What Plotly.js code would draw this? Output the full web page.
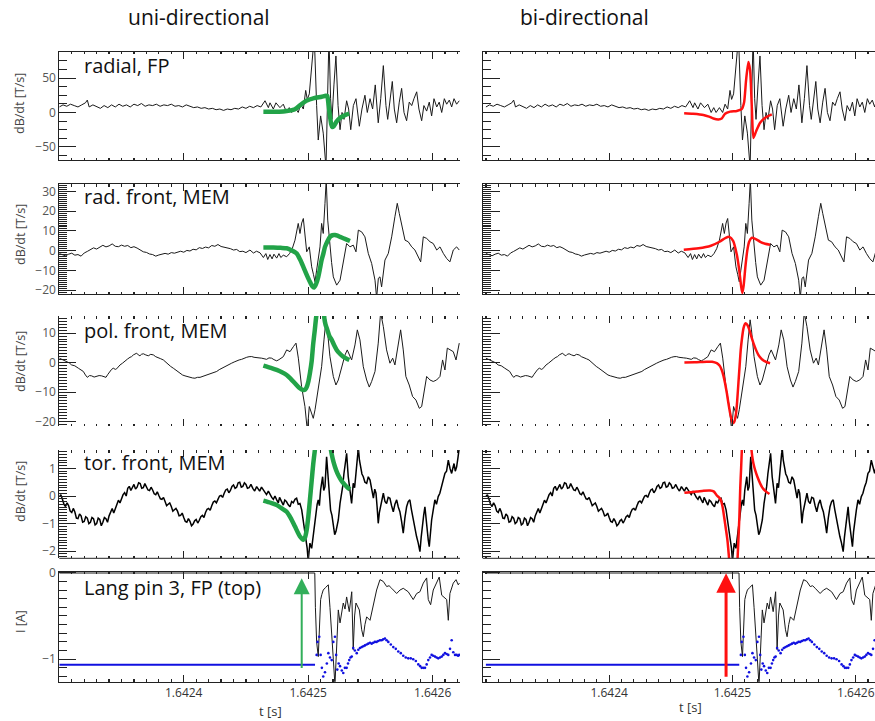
<!DOCTYPE html>
<html><head><meta charset="utf-8">
<script src="https://cdn.plot.ly/plotly-3.0.1.min.js"></script>
<style>html,body{margin:0;padding:0;background:#fff;overflow:hidden}#chart{width:875px;height:721px}</style>
</head><body><div id="chart"></div>
<script>
// time origin (s); all point times below are offsets in microseconds from T0
const T0 = 1.6423;
const US = 1e-6;
const xTickVals = [1.6424, 1.6425, 1.6426];
const xTickText = ['1.6424', '1.6425', '1.6426'];

const colTitles = ['uni-directional', 'bi-directional'];
const panelLabels = ['radial, FP', 'rad. front, MEM', 'pol. front, MEM', 'tor. front, MEM', 'Lang pin 3, FP (top)'];
const yTitles = ['dB/dt [T/s]', 'dB/dt [T/s]', 'dB/dt [T/s]', 'dB/dt [T/s]', 'I [A]'];
const xTitle = 't [s]';

// ---- measured signals [t (us), value] ----
const radialFP = [[0,8],[3,11],[6,9],[9,12],[12,10],[15,8],[18,11],[21,14],[22.5,18],[24,8],[27,11],[30,9],[33,6],[36,10],[39,7],[42,11],[45,8],[48,12],[51,9],[54,11],[57,8],[60,12],[63,10],[66,13],[69,9],[72,11],[75,10],[78,12],[81,9],[84,11],[87,10],[90,12],[93,9],[96,10],[99,8],[102,11],[105,9],[108,7],[111,8],[114,6],[117,7],[120,5],[123,6],[126,4],[129,5],[132,3],[135,5],[138,4],[141,6],[144,5],[147,8],[150,6],[153,9],[156,7],[159,10],[162,8],
[165.3,17],[168,7],[169.3,14],[172,5],[174.1,14],[177.3,7],[180,12],[182.7,0],[184.8,7],[186.7,0],[189.4,7],[192,0],[194,12],[196.1,5],[198,32],[199.3,19],[200.9,27],[203,60],[204.9,110],[206.8,10],[208.1,-40],[210,-5],[212.1,-30],[214.3,-80],[215.7,20],[216.7,110],[218,20],[219.1,-10],[220.7,40],[222.3,82],[224,10],[225.6,-25],[227.2,0],[228.8,-10],[230.9,17],[232.5,5],[234.2,-25],[236.3,10],[238.4,20],[241.1,-20],[243.2,5],[245.6,25],[247.5,0],[249.7,20],[251.8,5],[253.9,40],[256.3,-15],[258.3,20],[260.4,68],[262.5,10],[263.9,-10],[265.7,20],[267.6,45],[269.2,5],[271.1,-15],[273.2,15],[275.1,35],[277,0],[279.1,-12],[281.2,15],[283.2,10],[285,20],[287.2,30],[289,5],[291.2,-12],[293,10],[295.2,2],[297.3,15],[299.2,-5],[301.1,20],[303.3,8],[305.3,15],[307.3,0],[309.4,20],[311.3,12],[313.4,18],[315.3,8],[317.2,20],[319.3,12],[321.4,17]];

const radFront = [[0,-1.5],[2.5,-2.2],[5,-2.6],[7.5,-1.8],[10,-1.3],[12.5,-2.3],[15,-2.0],[17.5,-2.8],[20,-1.2],[22.5,-0.4],[25,0.3],[27.5,1.4],[30,0.8],[32.5,1.8],[35,2.7],[37.5,1.9],[40,2.4],[42.5,3.4],[45,2.2],[47.5,2.0],[50,2.8],[52.5,2.2],[55,2.6],[57.5,1.5],[60,2.0],[62.5,1.3],[65,0.4],[67.5,-0.6],[70,-0.9],[72.5,-1.7],[75,-2.0],[77.5,-2.8],[80,-2.2],[82.5,-1.9],[85,-1.4],[87.5,-1.8],[90,-1.0],[92.5,-1.3],[95,-0.6],[97.5,-0.3],[100,-0.8],[102.5,0.1],[105,-0.2],[107.5,0.7],[110,0.4],[112.5,1.5],[115,1.1],[117.5,1.8],[120,1.4],[122.5,2.6],[125,2.2],[127.5,3.1],[130,2.1],[132.5,1.8],[135,1.2],[137.5,1.0],[140,0.3],[142.5,0.6],[145,-0.5],[147.5,-0.3],[150,-1.0],
[153.2,0.3],[156,-1.2],[158.5,-0.3],[161.3,-1.1],[164,-3.5],[166,-1.5],[167.5,-4.5],[169.3,-2.0],[171,-4.2],[172.5,-1.8],[174.7,-3.8],[176.5,-1.5],[178,-3.5],[180,-2.3],[182.7,-3.1],[185,-1.5],[187.2,1.0],[189.4,5.3],[192,13.8],[193.4,8.7],[194.8,14],[196.1,16.3],[197.4,7],[198.8,-0.6],[200.9,1.9],[202.8,-8.2],[204.2,-12],[205.5,-15.8],[206.8,-9.9],[208.2,-4],[209.5,1.9],[210.8,13.8],[212.1,8.7],[213.5,24],[214.5,36],[215.7,15.5],[217.5,1.9],[218.8,-6],[220.2,-13.3],[222.9,-17.5],[225.6,-15],[228.2,-4.8],[230.9,3.6],[233.6,1.9],[236.2,2.8],[238.4,-0.6],[240.3,10.4],[243,9.5],[245.6,7],[248.3,-1.4],[251,-6.5],[253.7,-15],[255,-24],[256.4,-14],[257.7,-13.3],[259,-18.4],[261.7,-4.8],[264.4,-1.4],[267.1,7],[269.7,17.2],[271.6,24],[273.2,18.9],[275.1,13.8],[277.8,5.3],[280.4,4.5],[283.2,1.9],[285.8,0.3],[288.5,-3.1],[290.4,-5.7],[292.5,7],[295.2,6.2],[297.9,4.5],[300.5,3.6],[303.3,0.3],[305.9,1.9],[308.6,-1.4],[311.3,-4],[313.9,-5.7],[316.6,0.3],[319.3,1.9],[321.4,0.3]];

const polFront = [[0,1.5],[3,0.9],[5.9,0.35],[8,-0.1],[9.9,-0.8],[12.5,-1.1],[15.3,-1.9],[17.5,-2.4],[19.3,-3.0],[21,-4.2],[22.5,-5.0],[24.3,-4.4],[26,-4.5],[28,-4.9],[30,-4.7],[32,-4.4],[34,-4.5],[36,-4.8],[37.5,-5.0],[39,-4.0],[40.7,-3.0],[42,-2.3],[43.4,-1.9],[45,-2.3],[46.1,-2.1],[47.5,-1.2],[48.8,-0.8],[50.8,-0.2],[52.8,0.35],[54.8,1.2],[56.8,1.8],[58,2.0],[59.5,2.6],[61,2.9],[62.2,3.2],[63.5,2.6],[64.8,2.3],[66,2.8],[67.5,3.0],[69.5,2.6],[71.5,2.3],[73.5,2.8],[75.6,2.6],[77.5,2.0],[79.6,1.5],[81.5,1.3],[83.6,0.9],[85.5,0.1],[87.6,-0.8],[89.5,-1.3],[91.6,-1.9],[94,-2.7],[97,-3.8],[99,-4.2],[101,-4.5],[103,-4.8],[105,-5.1],[107,-5.2],[109,-5.3],[111,-5.0],[113.1,-5.0],[115,-4.7],[117.1,-4.5],[119,-4.2],[121.1,-3.8],[123.5,-3.5],[126.5,-3.0],[128.5,-2.4],[130.5,-1.9],[132.5,-1.6],[134.5,-1.1],[136.5,-0.6],[138.5,-0.2],[140.5,0.2],[142.5,0.6],[144.5,0.9],[146.5,1.1],[148.5,1.5],[150.6,1.8],[152.5,2.0],[154.6,2.05],[156.5,1.8],[158.6,1.8],[160.5,1.6],[162.6,1.5],[164.5,1.2],[166.6,1.1],[168.5,1.6],[170.6,1.5],[172.5,1.0],[174.7,0.6],[176.5,1.0],[178.7,1.8],
[180,2.0],[182.7,4.3],[185.4,3.7],[188.1,5.4],[190.2,6.6],[192.1,1.5],[194.7,-8.1],[197.4,-14.9],[199.3,-23],[200.9,-14.9],[202.8,-17.2],[204.1,-18.9],[205.5,-16],[208.1,-8.1],[210.8,-1.4],[212.7,7.7],[214.3,14.5],[215.4,11.1],[217.5,2.0],[220.2,-4.7],[222.3,-7.6],[224.2,-5.9],[226.9,-1.4],[229.6,2.6],[231.4,4.3],[233.6,2.0],[234.9,0.9],[237.6,6.0],[239.5,11.1],[241.6,7.7],[244.3,-1.4],[247,-5.9],[249.1,-8.3],[251,-6.4],[253.7,-3.0],[256.3,6.6],[258.2,17],[260.4,12.2],[263,4.3],[265.7,-0.2],[267.9,1.5],[269.7,-0.8],[272.4,5.4],[274.3,11.1],[276.4,4.3],[278.5,-4.7],[281.2,-7.6],[283.9,-11.5],[286.6,-12.7],[289.3,-15.5],[291.2,-14.9],[293,-10.4],[295.2,-4.7],[297.9,-5.9],[300.5,-6.4],[303.2,-5.9],[305.9,-4.7],[308,0.9],[309.9,-2.5],[311.8,4.9],[313.9,4.3],[316.6,3.7],[318.8,0.9],[320.6,5.4],[321.4,6.6]];

const torFront = [[0,-0.02],[1.25,0.05],[2.5,-0.12],[3.75,-0.3],[5,-0.38],[6.25,-0.25],[7.5,-0.35],[8.75,-0.55],[10,-0.6],[11.25,-0.45],[12.5,-0.58],[13.75,-0.8],[15,-0.82],[16.25,-0.65],[17.5,-0.72],[18.75,-0.95],[20,-0.92],[21.25,-0.75],[22.5,-0.8],[23.75,-1.0],[25,-0.95],[26.25,-0.78],[27.5,-0.82],[28.75,-1.05],[30,-1.0],[31.25,-0.8],[32.5,-0.85],[33.75,-1.08],[35,-0.95],[36.25,-0.78],[37.5,-0.82],[38.75,-0.95],[40,-0.72],[41.25,-0.6],[42.5,-0.45],[43.75,-0.62],[45,-0.48],[46.25,-0.3],[47.5,-0.15],[48.75,-0.25],[50,-0.05],[51.25,0.05],[52.5,0.12],[53.75,0.0],[55,0.28],[56.25,0.35],[57.5,0.2],[58.75,0.3],[60,0.42],[61.25,0.25],[62.5,0.32],[63.75,0.48],[65,0.45],[66.25,0.28],[67.5,0.3],[68.75,0.45],[70,0.36],[71.25,0.22],[72.5,0.2],[73.75,0.32],[75,0.22],[76.25,0.08],[77.5,0.05],[78.75,0.15],[80,0.02],[81.25,-0.1],[82.5,-0.12],[83.75,-0.05],[85,-0.2],[86.25,-0.35],[87.5,-0.3],[88.75,-0.25],[90,-0.38],[91.25,-0.55],[92.5,-0.5],[93.75,-0.45],[95,-0.55],[96.25,-0.72],[97.5,-0.7],[98.75,-0.62],[100,-0.78],[101.25,-0.92],[102.5,-0.95],[103.75,-0.82],[105,-0.92],[106.25,-1.08],[107.5,-1.02],[108.75,-0.9],[110,-0.85],[111.25,-0.98],[112.5,-0.88],[113.75,-0.75],[115,-0.7],[116.25,-0.78],[117.5,-0.6],[118.75,-0.48],[120,-0.45],[121.25,-0.52],[122.5,-0.35],[123.75,-0.22],[125,-0.18],[126.25,-0.25],[127.5,-0.12],[128.75,0.0],[130,0.02],[131.25,-0.05],[132.5,0.1],[133.75,0.22],[135,0.25],[136.25,0.12],[137.5,0.2],[138.75,0.35],[140,0.4],[141.25,0.28],[142.5,0.32],[143.75,0.48],[145,0.5],[146.25,0.32],[147.5,0.35],[148.75,0.48],[150,0.42],
[151.2,0.28],[152.5,0.3],[154,0.42],[155.5,0.28],[157,0.18],[158.6,0.34],[160,0.25],[161,0.18],[162.5,0.32],[164,0.22],[165.2,0.1],[166.5,0.05],[168,0.18],[169.3,0.04],[170.7,-0.05],[172,-0.12],[173.3,0.0],[174.7,-0.14],[176,-0.25],[177,-0.05],[178.5,-0.2],[180,-0.33],[181.2,-0.15],[182.5,-0.2],[184,-0.32],[185.4,-0.39],[186.7,-0.2],[188,-0.25],[189.4,-0.12],[190.7,-0.08],[192,-0.3],[193.4,-0.27],[194.8,-0.5],[196.1,-0.87],[197.2,-1.2],[198.3,-1.59],[199.2,-1.9],[200,-2.35],[201.4,-1.71],[202.8,-1.9],[204.1,-1.35],[205.2,-0.9],[206.3,-0.63],[207.2,-0.3],[208.1,-0.14],[209,-0.35],[210,0.22],[211.6,0.7],[212.5,0.2],[213.5,0.34],[214.8,1.42],[216.2,0.58],[217.1,0.1],[218,-0.51],[219.1,-0.7],[220.2,-0.99],[221.3,-1.4],[222.3,-1.29],[223.3,-1.0],[224.2,-0.87],[225.6,-0.27],[226.6,0.0],[227.7,0.34],[228.7,0.8],[229.6,1.12],[230.9,1.55],[232.2,0.7],[233.6,0.22],[234.9,-0.27],[236.2,0.46],[237.3,0.3],[238.4,0.82],[239.4,1.2],[240.3,1.75],[241.2,1.3],[242.2,1.06],[243.2,0.8],[244.3,0.7],[245.6,0.5],[247,0.46],[248.3,0.7],[249.7,0.58],[251,0.2],[252.4,-0.08],[253.5,0.25],[254.5,0.1],[255.4,-0.4],[256.3,-0.99],[257.2,-0.6],[258.2,-0.39],[259.3,-0.1],[260.4,0.1],[261.7,-0.2],[263,-0.27],[264.3,-0.05],[265.7,-0.08],[267,-0.35],[268.4,-0.57],[269.7,-0.3],[271.1,-0.14],[272.4,-0.4],[273.7,-0.57],[275,-0.9],[276.4,-1.35],[277.7,-0.8],[279.1,-0.39],[280.4,-0.2],[281.7,-0.14],[283,-0.5],[284.4,-0.87],[285.7,-1.1],[287.1,-1.47],[288.4,-1.7],[289.8,-2.02],[290.8,-1.5],[291.9,-0.99],[292.8,-0.7],[293.8,-0.39],[294.7,-0.9],[295.7,-1.35],[296.5,-1.6],[297.3,-1.84],[298.2,-1.3],[299.2,-0.87],[300.5,-0.5],[301.8,-0.14],[303.1,-0.3],[304.5,-0.02],[305.8,0.1],[307.2,0.34],[308.5,0.5],[309.9,0.82],[311.2,0.9],[312.6,1.30],[314,1.0],[315.3,0.82],[316.2,1.0],[317.2,1.18],[318.2,0.9],[319.3,1.06],[320.4,1.4],[321.4,1.75]];

const langPin = [[0,-0.003],[205.3,-0.003],[205.8,-0.4],[206.8,-0.8],[208.1,-0.97],[209,-0.6],[210,-0.31],[211,-0.25],[212.1,-0.2],[214,-0.17],[216.2,-0.14],[217.5,-0.4],[218.9,-0.78],[220.2,-1.0],[221.5,-1.3],[222.9,-0.8],[224.2,-0.43],[225.6,-0.58],[226.9,-0.45],[228.2,-0.35],[229.6,-0.42],[230.9,-0.28],[233,-0.45],[235,-0.22],[236.2,-0.89],[237.3,-0.5],[238.4,-0.35],[241.1,-0.43],[243,-0.66],[244.3,-0.74],[245.6,-0.6],[247,-0.51],[249.7,-0.55],[252.3,-0.39],[255,-0.2],[257.7,-0.08],[260.3,-0.1],[263.1,-0.16],[265,-0.15],[267.1,-0.18],[271.1,-0.24],[273.8,-0.2],[276.4,-0.18],[280.4,-0.22],[284.4,-0.31],[287.2,-0.24],[289.8,-0.22],[292.5,-0.12],[295.2,-0.06],[296.5,-0.31],[298.4,-0.37],[300.5,-0.2],[303.3,-0.12],[305.3,-0.05],[307.3,-0.26],[311.3,-0.31],[312.6,-0.55],[313.9,-0.24],[316.6,-0.12],[318.8,-0.08],[320.6,-0.14],[321.5,-0.12]];

const langBlueFlat = [[0,-1.065],[205.5,-1.065]];
const langBlueDots = [[206.8,-0.95],[207.5,-0.8],[208.9,-0.74],[210,-0.95],[211,-1.1],[212.1,-1.2],[213.5,-1.15],[215,-1.05],[216.2,-0.93],[217.5,-0.98],[218.9,-1.01],[220.2,-0.8],[221.5,-0.74],[222.5,-0.95],[223.4,-1.12],[224.5,-1.05],[225.6,-1.08],[227,-1.13],[228.2,-1.16],[229.5,-1.1],[230.9,-1.1],[232,-1.05],[233,-1.01],[234,-0.98],[235,-0.97],[236.2,-0.87],[237.5,-0.9],[239,-0.93],[240.3,-0.89],[241.6,-0.87],[243,-0.86],[244.3,-0.85],[245.6,-0.84],[247,-0.83],[248.3,-0.82],[249.7,-0.81],[251,-0.82],[252.3,-0.81],[253.6,-0.8],[255,-0.8],[256.3,-0.79],[257.7,-0.78],[259,-0.78],[260.3,-0.77],[261.7,-0.76],[263,-0.78],[264.4,-0.8],[266.4,-0.83],[268.4,-0.86],[270.4,-0.88],[272.4,-0.91],[274.4,-0.93],[276.4,-0.96],[278.4,-0.98],[280.4,-0.99],[282.4,-0.99],[284.4,-1.0],[286.5,-1.02],[288.5,-1.06],[290,-1.08],[291.2,-1.1],[292.5,-1.1],[293.9,-1.1],[295.2,-1.06],[296.5,-1.01],[297.9,-0.98],[299.2,-0.95],[300.5,-0.96],[301.9,-0.97],[303.2,-0.98],[304.5,-0.99],[305.9,-0.98],[307.3,-0.97],[308.6,-0.95],[309.9,-0.93],[311.3,-0.94],[312.6,-0.95],[314,-0.88],[315.3,-0.78],[316.6,-0.92],[318,-0.95],[319.3,-0.95],[320.5,-0.96],[321.4,-0.95]];

// ---- model fits ----
const greenRadial = [[164,1],[172,1],[180,1.5],[182.7,2],[189.4,4.7],[194.5,12],[198.5,17],[204.7,20.8],[210.8,22.8],[214,24.3],[215.3,24],[216.3,12],[217.5,-5],[218.5,-17],[219.3,-21],[220.5,-20],[222.9,-13],[225.5,-8],[228.2,-5],[230.5,-3],[233,-1.6]];
const greenRadFront = [[164,1.6],[172,1.6],[178,1.4],[182.7,1.2],[186.5,0.2],[190.7,-1.4],[193.5,-4.5],[196.1,-8.2],[199,-12.5],[201.4,-15.8],[203.2,-18],[204.7,-18.7],[206.3,-17],[208.1,-13.3],[209.5,-9],[210.8,-4.8],[212.2,-1.5],[213.5,1.9],[215.5,4.8],[217.5,7],[219.5,7.8],[221.5,7.9],[223.5,7.6],[225.6,7],[228.2,6.3],[230.9,5.6],[233.6,4.9]];
const greenPolFront = [[164,-1.0],[170,-1.8],[174.7,-2.5],[178.5,-3.2],[182.7,-4.2],[186,-5.5],[189.4,-7],[193,-8.6],[196.1,-9.3],[197.5,-9.2],[198.8,-8.3],[200.2,-6.3],[201.4,-3.6],[202.8,0.5],[204.1,6.6],[205.3,11],[206.3,15],[207.6,19],[210,null],[212.4,19],[213,15],[214,12.8],[215.4,11.1],[217,9],[218.9,7.7],[221,5.8],[222.9,4.3],[225.5,3],[228.2,2],[231,1.3],[233.1,0.9]];
const greenTorFront = [[164,-0.17],[170,-0.25],[174.7,-0.33],[178.5,-0.44],[182.7,-0.57],[186,-0.8],[189.4,-1.11],[193.4,-1.47],[196.1,-1.59],[197.5,-1.5],[198.8,-1.23],[200.1,-0.75],[201.4,-0.14],[202.8,0.55],[204.1,1.18],[205.2,1.6],[206.2,2.0],[210,null],[217.3,2.0],[218,1.75],[219.7,1.35],[221.5,1.06],[223.5,0.82],[225.6,0.64],[227.6,0.5],[229.6,0.4],[231.6,0.31],[233.6,0.24]];
const redRadial = [[160.8,-1.2],[168,-2],[176.4,-3.6],[181,-6],[184.5,-8.7],[188.6,-10.1],[191.3,-8.7],[194,-1.9],[198.1,1.2],[203.5,2.2],[207.5,4.7],[209.4,14.4],[211,46.3],[212.9,73.3],[214.3,61],[215.7,7.1],[217,-37],[219.2,-27.2],[222.4,-15],[226.5,-7.6],[231.9,-2.7]];
const redRadFront = [[160.5,0.5],[172.5,1.2],[182.5,2.5],[189.5,4.5],[194.5,6.5],[197.5,7],[200.5,5],[203.5,-2],[205.5,-10],[207,-18],[208,-21.5],[209,-18],[210.5,-8],[212,0],[213.5,4.5],[215.5,6.5],[218.5,6],[222.5,4.5],[226.5,3.5],[230.5,3]];
const redPolFront = [[161,0],[169.5,0.1],[179.2,0.3],[183.5,0.3],[187.3,-0.2],[189.5,-1],[191.3,-2.5],[192.7,-4.5],[194,-7],[195.5,-10.5],[196.7,-13.8],[198.5,-18],[200.3,-20.6],[201.5,-20],[202.9,-17.2],[203.9,-12.5],[204.8,-7],[205.8,-1],[206.7,4.3],[207.8,8.5],[208.9,11.6],[210,13],[211,13.3],[212.3,12.6],[213.7,11.1],[215.3,8.8],[217,6.6],[219,4.4],[221,2.6],[223,1.5],[225.1,0.7],[227.5,0.2],[230.5,-0.2]];
const redTorFront = [[161,0.12],[165.5,0.14],[171.1,0.16],[176.5,0.19],[181.8,0.2],[185,0.16],[187.3,0.02],[189,-0.05],[190.5,-0.14],[192,-0.4],[193.2,-0.75],[194.5,-1.15],[195.9,-1.6],[197.5,-2.4],[200,null],[204,-2.4],[204.8,-1.6],[205.6,-0.75],[206.3,0.3],[207,1.0],[207.7,1.8],[211,null],[215.1,1.8],[216,1.45],[217,1.18],[218.5,0.92],[220.2,0.7],[222.5,0.45],[224.6,0.28],[227.5,0.15],[230,0.07]];

// arrows in the Langmuir panels: [t (us), tail value, tip value]
const greenArrow = [194.8, -1.12, -0.065];
const redArrow = [194.8, -1.22, -0.007];

const blackSeries = [radialFP, radFront, polFront, torFront, langPin];
const greenFits = [greenRadial, greenRadFront, greenPolFront, greenTorFront];
const redFits = [redRadial, redRadFront, redPolFront, redTorFront];

const yRanges = [[-69, 88.5], [-22, 33.8], [-21.5, 15.8], [-2.26, 1.67], [-1.26, 0.012]];
const yDticks = [50, 10, 10, 1, 1];
const yMinor = [12.5, 1, 1, 0.1, 0.1];

// ---- layout geometry (pixels) ----
const W = 875, H = 721;
const cols = [[59.3, 460], [482.7, 875]];
const xRangesUs = [[0, 322], [-2.6, 315.6]];
const rows = [[51.5, 160], [184, 294], [316, 426], [450, 558.3], [571.7, 681.7]];
const FONT = 'Open Sans, Liberation Sans, sans-serif';
const GREEN = 'rgb(34,163,72)';
const RED = '#ff1010';

const tx = pts => pts.map(p => T0 + p[0] * US);
const ty = pts => pts.map(p => p[1]);

const data = [];
const layout = {
  width: W, height: H, margin: {l: 0, r: 0, t: 0, b: 0},
  paper_bgcolor: '#fff', plot_bgcolor: 'rgba(0,0,0,0)',
  showlegend: false, font: {family: FONT, color: '#222'},
  annotations: [], shapes: []
};

for (let c = 0; c < 2; c++) {
  for (let r = 0; r < 5; r++) {
    const n = c * 5 + r + 1;
    const xid = n === 1 ? 'x' : 'x' + n;
    const yid = n === 1 ? 'y' : 'y' + n;
    const xkey = n === 1 ? 'xaxis' : 'xaxis' + n;
    const ykey = n === 1 ? 'yaxis' : 'yaxis' + n;
    const xd = [cols[c][0] / W, cols[c][1] / W];
    const yd = [1 - rows[r][1] / H, 1 - rows[r][0] / H];
    const axisLine = (r === 0 || r === 1 || r === 4);
    layout[xkey] = {
      domain: xd, anchor: yid,
      range: [T0 + xRangesUs[c][0] * US, T0 + xRangesUs[c][1] * US],
      showline: axisLine, linecolor: '#222', linewidth: 1, mirror: 'ticks',
      ticks: 'inside', ticklen: 7, tickcolor: '#222', tickwidth: 1,
      tickmode: 'array', tickvals: xTickVals, ticktext: xTickText,
      showticklabels: r === 4,
      tickfont: {family: FONT, size: 12, color: '#333'},
      minor: {tickmode: 'linear', tick0: T0, dtick: 10 * US, ticks: 'inside', ticklen: 2.5, tickcolor: '#222', tickwidth: 1.2},
      showgrid: false, zeroline: false, fixedrange: true
    };
    if (r === 3) {
      layout.shapes.push({type: 'line', xref: xid + ' domain', yref: yid + ' domain', x0: 0, x1: 1, y0: 0, y1: 0, line: {color: '#222', width: 1}});
    }
    layout[ykey] = {
      domain: yd, anchor: xid, range: yRanges[r],
      showline: true, linecolor: '#222', linewidth: 1,
      ticks: 'inside', ticklen: 17, tickcolor: '#222', tickwidth: 1,
      tickmode: 'linear', tick0: 0, dtick: yDticks[r],
      minor: {tickmode: 'linear', tick0: 0, dtick: yMinor[r], ticks: 'inside', ticklen: 8, tickcolor: '#222', tickwidth: 1},
      showticklabels: c === 0,
      tickfont: {family: FONT, size: 12, color: '#555'},
      showgrid: false, zeroline: false, fixedrange: true
    };

    const s = blackSeries[r];
    data.push({x: tx(s), y: ty(s), xaxis: xid, yaxis: yid, type: 'scatter', mode: 'lines',
      line: {color: r === 3 ? '#000' : '#1a1a1a', width: r === 3 ? 1.5 : 1}, hoverinfo: 'skip'});
    if (r < 4) {
      const f = c === 0 ? greenFits[r] : redFits[r];
      data.push({x: tx(f), y: ty(f), xaxis: xid, yaxis: yid, type: 'scatter', mode: 'lines',
        line: {color: c === 0 ? GREEN : RED, width: c === 0 ? 4.5 : 2.5, shape: 'spline', smoothing: 0.6},
        connectgaps: false, hoverinfo: 'skip'});
    } else {
      data.push({x: tx(langBlueFlat), y: ty(langBlueFlat), xaxis: xid, yaxis: yid, type: 'scatter', mode: 'lines',
        line: {color: '#1010e0', width: 2}, hoverinfo: 'skip'});
      data.push({x: tx(langBlueDots), y: ty(langBlueDots), xaxis: xid, yaxis: yid, type: 'scatter', mode: 'markers',
        marker: {color: '#1010e0', size: 2.6}, hoverinfo: 'skip'});
      const a = c === 0 ? greenArrow : redArrow;
      layout.annotations.push({xref: xid, yref: yid, axref: xid, ayref: yid,
        x: T0 + a[0] * US, y: a[2], ax: T0 + a[0] * US, ay: a[1], text: '',
        showarrow: true, arrowhead: 2, arrowsize: c === 0 ? 1.6 : 1.3, arrowwidth: c === 0 ? 2 : 3,
        arrowcolor: c === 0 ? 'rgb(50,175,90)' : RED, standoff: 0});
      layout.annotations.push({xref: 'paper', yref: 'paper', x: (c === 0 ? 270 : 690) / W, y: 1 - (c === 0 ? 711 : 707) / H,
        text: xTitle, showarrow: false, font: {family: FONT, size: 13, color: '#333'}, xanchor: 'center', yanchor: 'middle'});
    }
    if (c === 0) {
      const lblY = [66, 196, 330, 462, 587][r];
      layout.annotations.push({xref: 'paper', yref: 'paper', x: 82 / W, y: 1 - lblY / H, text: panelLabels[r],
        showarrow: false, xanchor: 'left', yanchor: 'middle', font: {family: FONT, size: 20, color: '#111'}});
      const ytY = [104, 235, 362, 492, 622][r];
      layout.annotations.push({xref: 'paper', yref: 'paper', x: 20 / W, y: 1 - ytY / H, text: yTitles[r],
        showarrow: false, textangle: -90, xanchor: 'center', yanchor: 'middle', font: {family: FONT, size: 12.5, color: '#444'}});
    }
  }
}
layout.annotations.push({xref: 'paper', yref: 'paper', x: 199 / W, y: 1 - 17 / H, text: colTitles[0], showarrow: false,
  font: {family: FONT, size: 21, color: '#111'}, xanchor: 'center', yanchor: 'middle'});
layout.annotations.push({xref: 'paper', yref: 'paper', x: 584 / W, y: 1 - 17 / H, text: colTitles[1], showarrow: false,
  font: {family: FONT, size: 21, color: '#111'}, xanchor: 'center', yanchor: 'middle'});

Plotly.newPlot('chart', data, layout, {staticPlot: true, displayModeBar: false});
</script>
</body></html>
